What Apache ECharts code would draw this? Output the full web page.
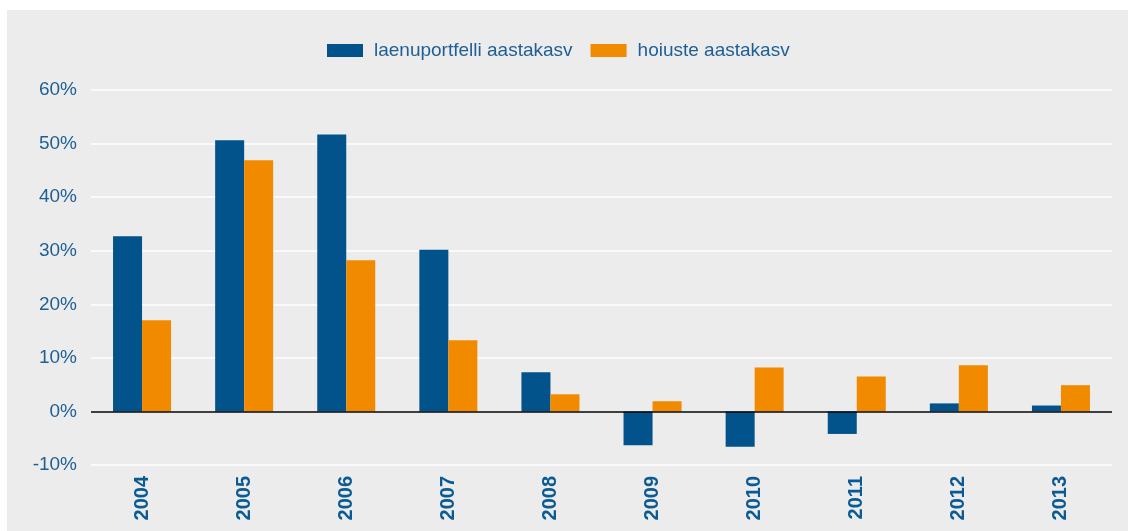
<!DOCTYPE html>
<html><head><meta charset="utf-8">
<script src="https://cdn.jsdelivr.net/npm/echarts@6/dist/echarts.min.js"></script>
<style>html,body{margin:0;padding:0;background:#fff}#c{width:1128px;height:531px}</style>
</head><body><div id="c"></div>
<script>
const categories = ['2004','2005','2006','2007','2008','2009','2010','2011','2012','2013'];
const laenuportfelli = [32.7, 50.6, 51.7, 30.2, 7.3, -6.3, -6.6, -4.2, 1.5, 1.1];
const hoiuste = [17.0, 46.9, 28.2, 13.3, 3.2, 1.9, 8.2, 6.5, 8.6, 4.9];
const seriesNames = ['laenuportfelli aastakasv', 'hoiuste aastakasv'];

const chart = echarts.init(document.getElementById('c'), null, {renderer:'canvas'});
const font = '"Liberation Sans", Arial, Helvetica, sans-serif';
chart.setOption({
  animation:false,
  textStyle:{fontFamily:font},
  graphic:[{type:'rect', z:-10, silent:true, shape:{x:7,y:10,width:1121,height:521}, style:{fill:'#EBECEB'}}],
  legend:{
    top:36, left:322, itemWidth:36, itemHeight:13, itemGap:18, icon:'rect',
    textStyle:{color:'#1F5F95', fontSize:19, fontFamily:font, padding:[0,0,0,6]},
    data:seriesNames
  },
  grid:{left:91, right:16, top:90, bottom:66, containLabel:false},
  xAxis:{
    type:'category', data:categories,
    axisLine:{show:false}, axisTick:{show:false},
    axisLabel:{rotate:90, color:'#0B5A93', fontWeight:'bold', fontSize:20, margin:11, fontFamily:font}
  },
  yAxis:{
    type:'value', min:-10, max:60, interval:10,
    axisLabel:{formatter:'{value}%', color:'#1F5F95', fontSize:19, margin:14, fontFamily:font},
    splitLine:{lineStyle:{color:'#FFFFFF', width:1.5}},
    axisLine:{show:false}, axisTick:{show:false}
  },
  series:[
    {name:seriesNames[0], type:'bar', data:laenuportfelli, itemStyle:{color:'#02538B'}, barWidth:29, barGap:'0%',
     markLine:{silent:true, symbol:'none', label:{show:false}, lineStyle:{color:'#000', width:1.5, type:'solid'}, data:[{yAxis:0}]}},
    {name:seriesNames[1], type:'bar', data:hoiuste, itemStyle:{color:'#F28A00'}, barWidth:29, barGap:'0%'}
  ]
});
</script></body></html>
